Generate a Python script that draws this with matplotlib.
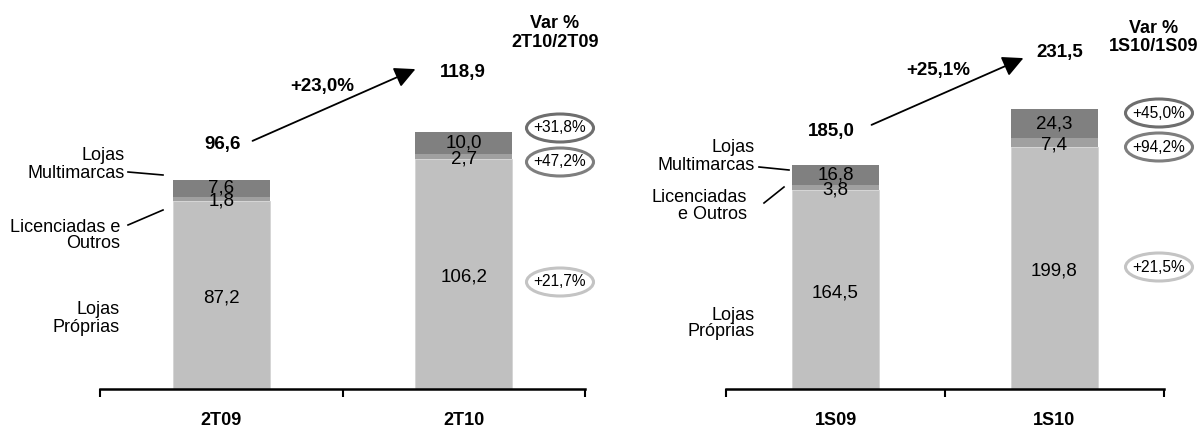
import matplotlib.pyplot as plt
from matplotlib.patches import Ellipse, FancyArrowPatch

plt.rcParams['font.family'] = ['Liberation Sans', 'DejaVu Sans']

# dados - trimestre
periodos_t = ['2T09', '2T10']
proprias_t = [87.2, 106.2]
licenciadas_t = [1.8, 2.7]
multimarcas_t = [7.6, 10.0]
totais_t = ['96,6', '118,9']
cresc_t = '+23,0%'
var_titulo_t = 'Var %\n2T10/2T09'
var_seg_t = ['+31,8%', '+47,2%', '+21,7%']

# dados - semestre
periodos_s = ['1S09', '1S10']
proprias_s = [164.5, 199.8]
licenciadas_s = [3.8, 7.4]
multimarcas_s = [16.8, 24.3]
totais_s = ['185,0', '231,5']
cresc_s = '+25,1%'
var_titulo_s = 'Var %\n1S10/1S09'
var_seg_s = ['+45,0%', '+94,2%', '+21,5%']

COR_PROP = '#c0c0c0'
COR_LIC = '#a0a0a0'
COR_MULTI = '#808080'

W, H = 1198, 428
fig = plt.figure(figsize=(W / 100, H / 100), dpi=100)


def px(x, y):
    return x / W, 1 - y / H


def fmt(v):
    return f'{v:.1f}'.replace('.', ',')


def painel(left, width, ymax, periodos, prop, lic, multi):
    ax = fig.add_axes([left / W, 39 / H, width / W, 389 / H])
    x = [0.5, 1.5]
    ax.bar(x, prop, width=0.4, color=COR_PROP, edgecolor='#d4d4d4', linewidth=0.6)
    ax.bar(x, lic, width=0.4, bottom=prop, color=COR_LIC, linewidth=0)
    base3 = [p + l for p, l in zip(prop, lic)]
    ax.bar(x, multi, width=0.4, bottom=base3, color=COR_MULTI, linewidth=0)
    for i in range(2):
        ax.text(x[i], prop[i] / 2 - ymax * 0.008, fmt(prop[i]), ha='center', va='center', fontsize=13.5)
        ax.text(x[i], prop[i] + lic[i] / 2 - ymax * 0.006, fmt(lic[i]), ha='center', va='center', fontsize=13.5)
        ax.text(x[i], base3[i] + multi[i] / 2, fmt(multi[i]), ha='center', va='center', fontsize=13.5)
    ax.set_xlim(0, 2)
    ax.set_ylim(0, ymax)
    for s in ['top', 'right', 'left']:
        ax.spines[s].set_visible(False)
    ax.spines['bottom'].set_linewidth(1.8)
    ax.set_yticks([])
    ax.set_xticks([0.5, 1.5], periodos, fontsize=13, fontweight='bold')
    ax.tick_params(axis='x', length=0, pad=16.5)
    ax.set_xticks([0, 1, 2], minor=True)
    ax.tick_params(axis='x', which='minor', length=6, width=1.5, direction='out')
    ax.patch.set_visible(False)
    return ax


painel(100, 485, 180.0, periodos_t, proprias_t, licenciadas_t, multimarcas_t)
painel(726, 438, 321.6, periodos_s, proprias_s, licenciadas_s, multimarcas_s)


def texto(x, y, s, **kw):
    fig.text(*px(x, y), s, ha=kw.pop('ha', 'center'), va='center', **kw)


def rotulo(x, y, s):
    texto(x, y, s, ha='right', fontsize=13, linespacing=1.0, multialignment='right')


def linha(x0, y0, x1, y1):
    a, b = px(x0, y0)
    c, d = px(x1, y1)
    fig.add_artist(plt.Line2D([a, c], [b, d], color='black', linewidth=1.2))


def seta(x0, y0, x1, y1):
    fig.add_artist(FancyArrowPatch(
        px(x0, y0), px(x1, y1), transform=fig.transFigure,
        arrowstyle='-|>,head_length=0.9,head_width=0.45', mutation_scale=14,
        color='black', linewidth=1.3))


def elipse(x, y, s, cor):
    fig.add_artist(Ellipse(px(x, y), 67 / W, 28 / H, transform=fig.transFigure,
                           facecolor='white', edgecolor=cor, linewidth=2.2))
    texto(x, y, s, fontsize=11.2)


CORES_ELIPSE = ['#6e6e6e', '#7e7e7e', '#c4c4c4']

# painel trimestre
rotulo(125, 164.5, 'Lojas\nMultimarcas')
rotulo(120, 235.5, 'Licenciadas e\nOutros')
rotulo(120, 318.5, 'Lojas\nPróprias')
linha(128, 172, 163, 175)
linha(128, 225, 163, 210)
seta(250, 142, 418, 68)
texto(223, 145, totais_t[0], fontsize=13.5, fontweight='bold')
texto(463, 72, totais_t[1], fontsize=13.5, fontweight='bold')
texto(322, 87, cresc_t, fontsize=13.5, fontweight='bold')
texto(555, 33, var_titulo_t, fontsize=13, fontweight='bold', linespacing=1.15)
for yy, s, c in zip([128, 162, 282], var_seg_t, CORES_ELIPSE):
    elipse(560, yy, s, c)

# painel semestre
rotulo(755, 156.5, 'Lojas\nMultimarcas')
rotulo(747, 205.5, 'Licenciadas\ne Outros')
rotulo(755, 323.5, 'Lojas\nPróprias')
linha(759, 167, 789, 170)
linha(764, 203, 784, 187)
seta(869, 126, 1026, 57)
texto(831, 132, totais_s[0], fontsize=13.5, fontweight='bold')
texto(1060, 53, totais_s[1], fontsize=13.5, fontweight='bold')
texto(938, 70, cresc_s, fontsize=13.5, fontweight='bold')
texto(1154, 37.5, var_titulo_s, fontsize=13, fontweight='bold', linespacing=1.15)
for yy, s, c in zip([113, 147, 267], var_seg_s, CORES_ELIPSE):
    elipse(1159, yy, s, c)

fig.savefig('out.png', dpi=100, facecolor='white')
